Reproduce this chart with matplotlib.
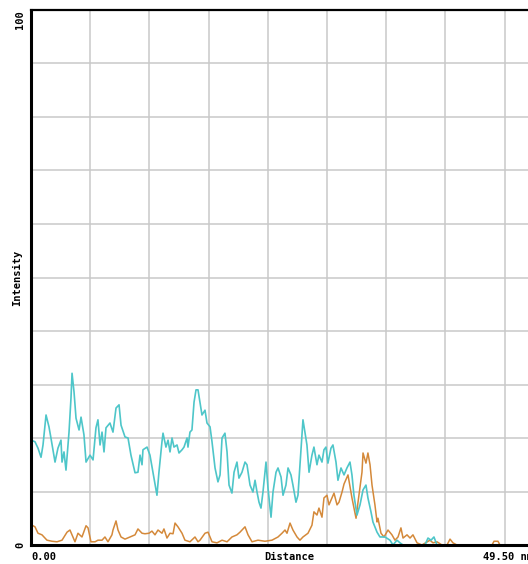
import numpy as np
import matplotlib
matplotlib.use("Agg")
import matplotlib.pyplot as plt

# Line-profile data: distance along the line (µm) and intensity (0-100)
cyan_dist = [0.00, 0.38, 0.67, 0.96, 1.15, 1.44, 1.72, 1.91, 2.30, 2.58, 2.87, 2.97, 3.16, 3.35,
             3.64, 3.83, 3.93, 4.12, 4.31, 4.60, 4.79, 5.07, 5.27, 5.65, 5.94, 6.22, 6.41, 6.61,
             6.80, 6.99, 7.18, 7.56, 7.85, 8.14, 8.43, 8.62, 9.00, 9.29, 9.57, 9.96, 10.24, 10.44,
             10.63, 10.72, 11.11, 11.39, 11.68, 12.06, 12.25, 12.54, 12.64, 12.92, 13.12, 13.31,
             13.50, 13.69, 13.98, 14.17, 14.46, 14.65, 14.94, 15.03, 15.22, 15.41, 15.61, 15.80,
             15.99, 16.18, 16.37, 16.66, 16.85, 17.14, 17.33, 17.62, 17.90, 18.10, 18.29, 18.57,
             18.77, 18.96, 19.24, 19.44, 19.72, 19.91, 20.20, 20.49, 20.68, 20.97, 21.25, 21.45,
             21.64, 21.83, 22.02, 22.21, 22.50, 22.69, 22.98, 23.17, 23.46, 23.65, 23.94, 24.13,
             24.41, 24.61, 24.89, 25.08, 25.37, 25.56, 25.75, 25.95, 26.04, 26.23, 26.42, 26.62,
             26.90, 27.09, 27.38, 27.57, 27.86, 28.05, 28.24, 28.43, 28.72, 28.91, 29.20, 29.39,
             29.68, 29.97, 30.25, 30.54, 30.73, 30.92, 31.21, 31.50, 31.79, 32.07, 32.26, 32.55,
             32.74, 33.13, 33.41, 33.89, 34.37, 34.66, 35.04, 35.33, 35.62, 37.72, 38.01, 38.30,
             38.58, 38.87, 49.50]
cyan_int = [19.6, 19.3, 18.1, 16.4, 18.7, 24.3, 22.1, 20.0, 15.5, 18.1, 19.6, 15.5, 17.4, 14.0,
            21.1, 27.5, 32.1, 28.6, 23.7, 21.5, 23.9, 20.6, 15.5, 16.8, 15.9, 21.9, 23.4, 18.7,
            21.1, 17.4, 21.9, 22.8, 21.1, 25.6, 26.2, 22.4, 20.2, 20.0, 16.8, 13.5, 13.6, 16.8,
            15.0, 17.8, 18.3, 16.8, 13.6, 9.3, 13.6, 19.3, 20.9, 18.3, 19.6, 17.4,
            20.0, 18.3, 18.7, 17.2, 17.8, 18.3, 20.0, 18.3, 21.1, 21.5, 26.7, 29.0,
            29.0, 26.7, 24.3, 25.2, 22.8, 22.1, 19.3, 14.4, 11.8, 13.1, 20.0, 20.9,
            17.4, 11.2, 9.7, 13.6, 15.5, 12.5, 13.6, 15.5, 15.0, 11.2, 9.9, 12.1,
            9.9, 8.0, 6.9, 9.9, 15.5, 10.7, 5.2, 9.9, 13.6, 14.4, 12.7, 9.3,
            11.2, 14.4, 13.1, 11.2, 8.0, 9.3, 15.0, 21.1, 23.4, 21.1, 18.7, 13.6,
            16.8, 18.3, 15.0, 16.8, 15.5, 17.8, 18.3, 15.3, 18.1, 18.7, 15.5, 12.1,
            14.4, 13.1, 14.4, 15.5, 13.1, 9.3, 5.6, 7.5, 10.3, 11.2, 8.8, 6.2,
            4.3, 2.4, 1.5, 1.5, 0.9, 0.0, 0.9, 0.4, 0.0, 0.0, 1.3, 0.9,
            1.5, 0.0, 0.0]

orange_dist = [0.10, 0.38, 0.67, 1.05, 1.53, 2.01, 2.49, 2.97, 3.45, 3.73, 4.02, 4.21, 4.50, 4.88,
               5.27, 5.46, 5.74, 6.13, 6.41, 6.80, 7.08, 7.37, 7.75, 7.85, 8.14, 8.33, 8.62, 9.00,
               9.48, 9.96, 10.24, 10.63, 10.91, 11.30, 11.58, 11.87, 12.16, 12.54, 12.73, 13.02,
               13.31, 13.60, 13.79, 14.07, 14.46, 14.74, 15.22, 15.70, 15.99, 16.18, 16.66, 16.95,
               17.33, 17.81, 18.29, 18.77, 19.24, 19.72, 20.01, 20.49, 20.78, 21.16, 21.73, 22.40,
               23.07, 23.65, 24.03, 24.32, 24.51, 24.80, 25.08, 25.47, 25.75, 26.04, 26.52, 26.90,
               27.09, 27.38, 27.57, 27.86, 28.05, 28.34, 28.53, 28.82, 29.01, 29.30, 29.49, 29.78,
               29.97, 30.35, 30.73, 31.12, 31.31, 31.69, 31.79, 32.07, 32.26, 32.46, 32.65, 32.93,
               33.13, 33.22, 33.51, 33.80, 34.18, 34.56, 34.85, 35.14, 35.42, 35.62, 36.00, 36.29,
               36.57, 36.96, 37.43, 38.20, 38.49, 38.87, 39.35, 39.83, 40.12, 40.40, 40.78, 44.14,
               44.33, 44.71, 44.90, 49.50]
orange_int = [3.7, 3.4, 2.2, 1.9, 0.9, 0.7, 0.6, 0.9, 2.4, 2.8, 1.5, 0.6, 2.2, 1.5,
              3.6, 3.2, 0.6, 0.6, 0.9, 0.9, 1.5, 0.6, 1.9, 2.8, 4.5, 2.8, 1.5, 1.1,
              1.5, 1.9, 3.0, 2.2, 2.1, 2.2, 2.6, 1.9, 2.8, 2.2, 3.0, 1.3,
              2.2, 2.1, 4.1, 3.4, 2.2, 0.9, 0.6, 1.5, 0.6, 0.9, 2.2, 2.4,
              0.6, 0.4, 0.9, 0.6, 1.5, 1.9, 2.4, 3.4, 1.9, 0.6, 0.9, 0.7,
              0.9, 1.5, 2.2, 2.8, 2.2, 4.1, 2.8, 1.5, 0.9, 1.5, 2.2, 3.7,
              6.2, 5.6, 6.9, 5.2, 8.8, 9.3, 7.5, 8.8, 9.7, 7.5, 8.0, 9.9,
              11.4, 13.1, 8.8, 5.0, 8.0, 13.6, 17.2, 15.3, 17.2, 15.0, 11.2, 7.5,
              4.3, 5.0, 2.2, 1.5, 2.8, 1.9, 0.9, 1.5, 3.2, 1.3, 1.9, 1.3,
              1.9, 0.4, 0.0, 0.9, 0.4, 0.6, 0.0, 0.0, 1.1, 0.4, 0.0, 0.0,
              0.7, 0.7, 0.0, 0.0]

x_range = [0.0, 49.5]
y_range = [0, 100]
y_tick_labels = ["0", "100"]
x_labels = ["0.00", "Distance", "49.50 nm"]
y_label = "Intensity"

W, H = 528, 564
fig = plt.figure(figsize=(W / 100, H / 100), dpi=100)
fig.patch.set_facecolor("white")

# plot frame in pixels: left 31, right 548 (beyond the canvas), top 10, bottom 545
L, R, T, B = 31, 548, 10, 545
ax = fig.add_axes([L / W, (H - B) / H, (R - L) / W, (B - T) / H])
ax.set_xlim(*x_range)
ax.set_ylim(*y_range)

# fixed-pitch grid
x_step = 59.2 / (R - L) * (x_range[1] - x_range[0])
ax.set_xticks(np.arange(1, 9) * x_step)
ax.set_yticks(np.arange(10, 100, 10))
ax.grid(True, color="#c9c9c9", linewidth=1.1)
ax.tick_params(length=0, labelbottom=False, labelleft=False)
ax.set_axisbelow(True)

for side in ("left", "bottom"):
    ax.spines[side].set_linewidth(2.2)
    ax.spines[side].set_color("black")
    ax.spines[side].set_zorder(5)
ax.spines["top"].set_linewidth(1.6)
ax.spines["top"].set_zorder(5)
ax.spines["right"].set_visible(False)

ax.plot(orange_dist, orange_int, color="#d4893a", linewidth=1.1, zorder=3, clip_on=True)
ax.plot(cyan_dist, cyan_int, color="#4ec6c9", linewidth=1.2, zorder=4, clip_on=True)

font = dict(family="DejaVu Sans Mono", fontweight="bold", fontsize=7.5, color="black")

def fx(px):
    return px / W

def fy(py):
    return (H - py) / H

# y-axis labels
fig.text(fx(20), fy(545), y_tick_labels[0], rotation=90, ha="center", va="center", **font)
fig.text(fx(20), fy(10), y_tick_labels[1], rotation=90, ha="center", va="top", **font)
fig.text(fx(17), fy((T + B) / 2), y_label, rotation=90, ha="center", va="center", **font)

# x-axis labels
fig.text(fx(31), fy(557), x_labels[0], ha="left", va="center", **font)
fig.text(fx(289), fy(557), x_labels[1], ha="center", va="center", **font)
fig.text(fx(483), fy(557), x_labels[2], ha="left", va="center", **font)

fig.savefig("out.png", dpi=100, facecolor="white")
